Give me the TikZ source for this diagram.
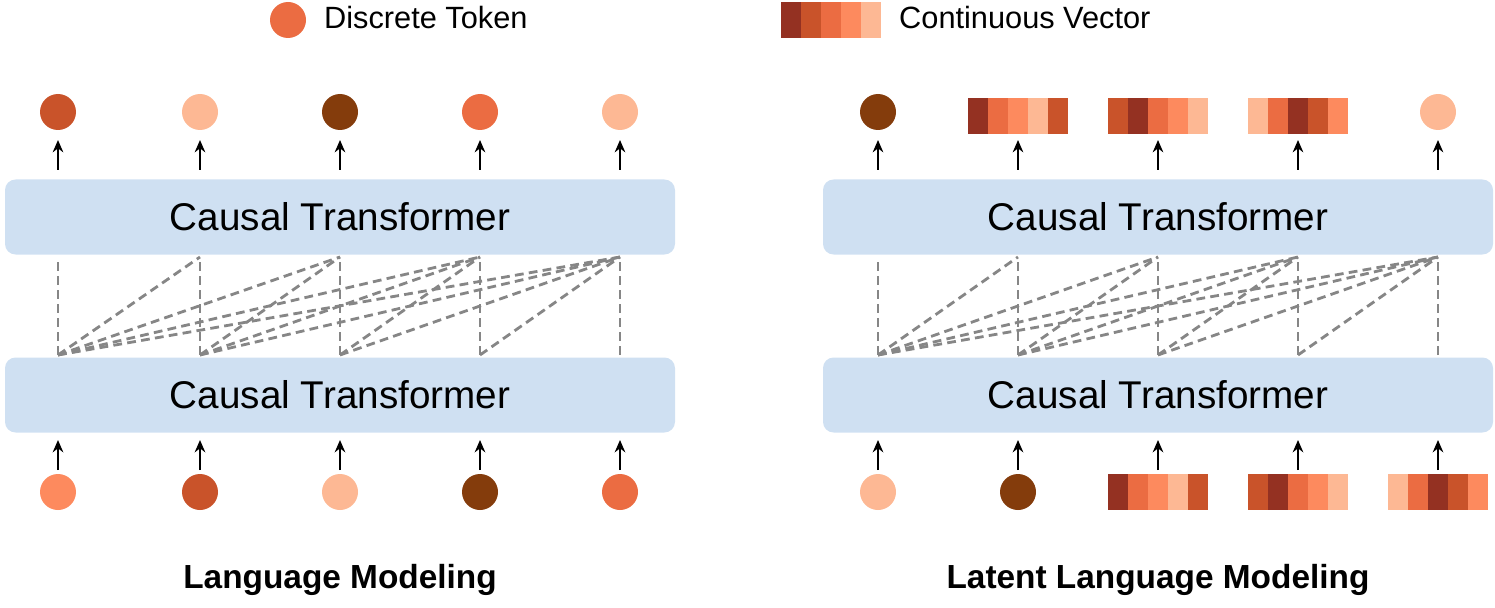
\documentclass[tikz,border=0pt]{standalone}
\usepackage{fontspec}
\setmainfont{Liberation Sans}
\usetikzlibrary{arrows.meta}
\definecolor{ca}{HTML}{943122}
\definecolor{cb}{HTML}{EB6C42}
\definecolor{cc}{HTML}{FD8A5E}
\definecolor{cd}{HTML}{FDB894}
\definecolor{ce}{HTML}{C9532A}
\definecolor{cf}{HTML}{843C0C}
\definecolor{boxblue}{HTML}{CFE0F2}
% a continuous vector: name, centre, five colours
\newcommand{\contvec}[3]{%
  \node[minimum width=100*0.02cm,minimum height=36*0.02cm,inner sep=0] (#1) at (#2) {};
  \foreach \c [count=\k] in {#3}
    \fill[\c] ([xshift=(\k-1)*20*0.02cm]#1.north west) rectangle ++(20,36);
}
\begin{document}
\begin{tikzpicture}[
    x=0.02cm, y=-0.02cm,
    tok/.style={circle, minimum size=36*0.02cm, inner sep=0},
    tf/.style={fill=boxblue, rounded corners=6pt, minimum width=670*0.02cm,
               minimum height=75*0.02cm, font=\fontsize{22}{24}\selectfont},
    att/.style={gray!95, dashed, line width=1.6pt, dash pattern=on 5pt off 3pt},
    up/.style={-{Stealth[length=7pt,width=6pt]}, line width=1.4pt}
  ]
  \useasboundingbox (0,0) rectangle (1495,608);

  % legend
  \node[tok, fill=cb] (legtok) at (288,20) {};
  \node[anchor=west, font=\fontsize{17.5}{20}\selectfont] (legtoktxt) at (318,18) {Discrete Token};
  \contvec{legvec}{831,20}{ca,ce,cb,cc,cd}
  \node[anchor=west, font=\fontsize{17.5}{20}\selectfont] (legvectxt) at (893,18) {Continuous Vector};

  % transformers
  \node[tf] (ltop) at (340,217) {Causal Transformer};
  \node[tf] (lbot) at (340,395) {Causal Transformer};
  \node[tf] (rtop) at (1158,217) {Causal Transformer};
  \node[tf] (rbot) at (1158,395) {Causal Transformer};

  % left: language modeling
  \foreach \x/\cout/\cin [count=\i] in {58/ce/cc, 200/cd/ce, 340/cf/cd, 480/cb/cf, 620/cd/cb} {
    \node[tok, fill=\cout] (lo\i) at (\x,112) {};
    \node[tok, fill=\cin] (li\i) at (\x,492) {};
    \coordinate (lot\i) at (\x,170);
    \coordinate (lib\i) at (\x,470);
    \coordinate (lat\i) at (\x,257);
    \coordinate (lab\i) at (\x,355);
    \draw[up] (lot\i) -- (lo\i.south |- 0,140);
    \draw[up] (lib\i) -- (\x,440);
  }

  % right: latent language modeling
  \node[tok, fill=cf] (ro1) at (878,112) {};
  \contvec{ro2}{1018,116}{ca,cb,cc,cd,ce}
  \contvec{ro3}{1158,116}{ce,ca,cb,cc,cd}
  \contvec{ro4}{1298,116}{cd,cb,ca,ce,cc}
  \node[tok, fill=cd] (ro5) at (1438,112) {};
  \node[tok, fill=cd] (ri1) at (878,492) {};
  \node[tok, fill=cf] (ri2) at (1018,492) {};
  \contvec{ri3}{1158,492}{ca,cb,cc,cd,ce}
  \contvec{ri4}{1298,492}{ce,ca,cb,cc,cd}
  \contvec{ri5}{1438,492}{cd,cb,ca,ce,cc}
  \foreach \x [count=\i] in {878,1018,1158,1298,1438} {
    \coordinate (rat\i) at (\x,257);
    \coordinate (rab\i) at (\x,355);
    \coordinate (rot\i) at (\x,170);
    \coordinate (rib\i) at (\x,470);
    \draw[up] (rot\i) -- (\x,140);
    \draw[up] (rib\i) -- (\x,440);
  }

  % causal attention
  \foreach \i in {1,...,5}
    \foreach \j in {\i,...,5} {
      \draw[att] (lab\i) -- (lat\j);
      \draw[att] (rab\i) -- (rat\j);
    }

  % titles
  \node[font=\bfseries\fontsize{19}{22}\selectfont] (ltitle) at (340,580) {Language Modeling};
  \node[font=\bfseries\fontsize{19}{22}\selectfont] (rtitle) at (1158,580) {Latent Language Modeling};
\end{tikzpicture}
\end{document}
